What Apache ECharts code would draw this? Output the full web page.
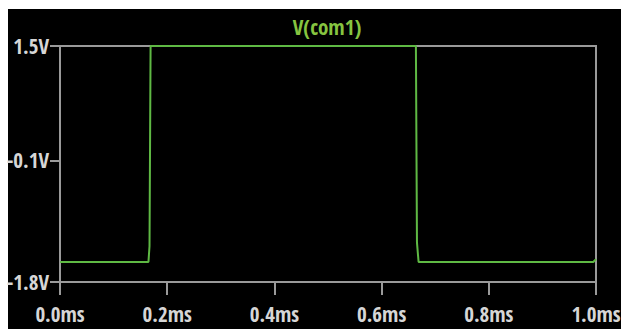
<!DOCTYPE html>
<html>
<head>
<meta charset="utf-8">
<script src="https://cdn.jsdelivr.net/npm/echarts@6/dist/echarts.min.js"></script>
<style>
html,body{margin:0;padding:0;background:#ffffff;width:621px;height:329px;overflow:hidden;}
#main{position:absolute;left:0;top:0;width:621px;height:329px;}
</style>
</head>
<body>
<div id="main"></div>
<script>
// Data
const seriesName = 'V(com1)';
const timeMs = [0.000, 0.165, 0.167, 0.169, 0.664, 0.666, 0.669, 0.995, 1.000];
const voltV  = [-1.52, -1.52, -1.30, 1.50, 1.50, -1.25, -1.52, -1.52, -1.48];
const xTicks = [0.0, 0.2, 0.4, 0.6, 0.8, 1.0];
const yTicks = [-1.8, -0.1, 1.5];

const FONT = '"Open Sans Condensed","Roboto Condensed",sans-serif';
const AXIS = '#9a9a9a';
const LABEL = '#d6d6d6';

const chart = echarts.init(document.getElementById('main'), null, {renderer: 'svg'});
chart.setOption({
  backgroundColor: '#ffffff',
  animation: false,
  graphic: [{
    type: 'rect',
    shape: {x: 8, y: 9, width: 613, height: 320},
    style: {fill: '#000000'},
    z: -10,
    silent: true
  }, {
    type: 'text',
    x: 327, y: 27,
    style: {
      text: seriesName,
      fill: '#86c440',
      font: 'bold 21px ' + FONT,
      align: 'center',
      verticalAlign: 'middle'
    },
    z: 100
  }],
  grid: {
    left: 60, top: 46, right: 25, bottom: 47,
    outerBoundsMode: 'none',
    containLabel: false,
    show: true,
    borderColor: AXIS,
    borderWidth: 2,
    backgroundColor: 'transparent'
  },
  xAxis: {
    type: 'value',
    min: xTicks[0], max: xTicks[xTicks.length - 1], interval: 0.2,
    splitLine: {show: false},
    axisLine: {show: true, onZero: false, lineStyle: {color: AXIS, width: 2}},
    axisTick: {show: true, length: 13, lineStyle: {color: AXIS, width: 2}},
    axisLabel: {
      color: LABEL, fontFamily: FONT, fontWeight: 'bold', fontSize: 21, margin: 21,
      formatter: v => v.toFixed(1) + 'ms'
    }
  },
  yAxis: {
    type: 'value',
    min: yTicks[0], max: yTicks[yTicks.length - 1],
    splitLine: {show: false},
    axisLine: {show: true, onZero: false, lineStyle: {color: AXIS, width: 2}},
    axisTick: {show: true, length: 10, customValues: yTicks, lineStyle: {color: AXIS, width: 2}},
    axisLabel: {
      color: LABEL, fontFamily: FONT, fontWeight: 'bold', fontSize: 21, margin: 11,
      customValues: yTicks,
      formatter: v => (Math.round(v * 10) / 10).toFixed(1) + 'V'
    }
  },
  series: [{
    name: seriesName,
    type: 'line',
    data: timeMs.map((t, i) => [t, voltV[i]]),
    showSymbol: false,
    clip: false,
    lineStyle: {color: '#5fb944', width: 2},
    z: 5
  }]
});
</script>
</body>
</html>
